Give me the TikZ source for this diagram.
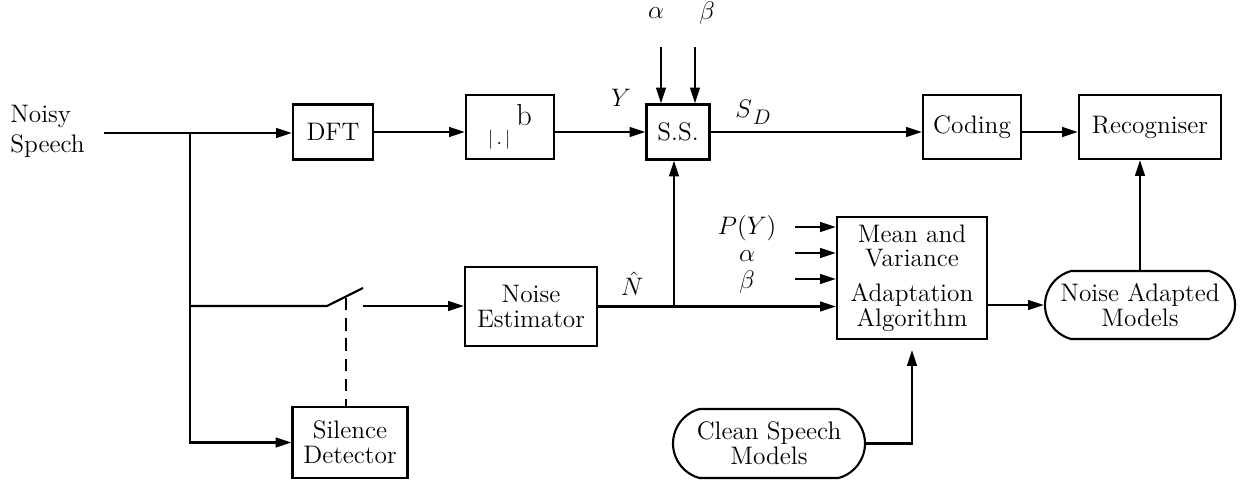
\documentclass[tikz,border=0pt]{standalone}
\usepackage{amsmath}
\usepackage{tikz}
\usetikzlibrary{positioning,arrows.meta,shapes.misc}
\tikzset{
  blk/.style={draw,line width=1.2pt,inner sep=0pt,align=center},
  rnd/.style={draw,rounded rectangle,rounded rectangle arc length=150,line width=1.2pt,inner sep=0pt,align=center},
  sig/.style={line width=1.2pt},
  arr/.style={sig,-{Triangle[length=9pt,width=5.5pt]}},
  ctl/.style={line width=1.2pt,dash pattern=on 7pt off 4.5pt},
  lbl/.style={inner sep=0pt},
}

\begin{document}
\begin{tikzpicture}[x=0.2mm,y=-0.2mm,font=\fontsize{14.4}{14}\selectfont]
  \useasboundingbox (0,0) rectangle (1256,483);
  % top row
  \node[lbl,anchor=west,align=left] (speech) at (10,131) {Noisy\\[3pt]Speech};
  \node[blk,minimum width=16mm,minimum height=11mm] (dft) at (333,132) {DFT};
  \node[blk,minimum width=17.6mm,minimum height=12.8mm] (pow) at (510,127)
    {{\fontsize{11}{12}\selectfont$|\,.\,|$}\hspace{1.2mm}\raisebox{11pt}{\fontsize{17.28}{18}\selectfont b}};
  \node[blk,minimum width=12.6mm,minimum height=11mm] (ss) at (678,132) {S.S.};
  \node[blk,minimum width=19.6mm,minimum height=12.8mm] (coding) at (972,127) {Coding};
  \node[blk,minimum width=28.4mm,minimum height=12.8mm] (recog) at (1150,127) {Recogniser};
  % lower rows
  \node[blk,minimum width=26.4mm,minimum height=15.8mm] (noiseest) at (531,306.5) {Noise\\Estimator};
  \node[blk,minimum width=23mm,minimum height=14.2mm] (silence) at (350,442.5) {Silence\\Detector};
  \node[blk,minimum width=30mm,minimum height=24.4mm] (mva) at (912,278)
    {Mean and\\Variance\\[6pt]Adaptation\\Algorithm};
  \node[rnd,minimum width=38mm,minimum height=13.6mm] (nam) at (1140,305) {Noise Adapted\\Models};
  \node[rnd,minimum width=38.4mm,minimum height=13.8mm] (csm) at (769,443.5) {Clean Speech\\Models};
  % signal labels
  \node[lbl] (ylbl) at (621,98) {$Y$};
  \node[lbl] (sdlbl) at (753,112) {$S$\kern0.5pt\raisebox{-4pt}{\fontsize{12}{12}\selectfont$D$}};
  \node[lbl] (nhat) at (632,284) {$\hat{N}$};
  \node[lbl] (atop) at (656,13) {$\alpha$};
  \node[lbl] (btop) at (707,13) {$\beta$};
  \node[lbl] (pylbl) at (747,228) {$P(Y)$};
  \node[lbl] (albl) at (747,256) {$\alpha$};
  \node[lbl] (blbl) at (747,282) {$\beta$};
  % free ends
  \coordinate (src) at (104,133);
  \coordinate (split) at (190,133);
  \coordinate (sw1) at (327,306);
  \coordinate (sw2) at (363,288);
  \coordinate (sw3) at (363,306);
  \coordinate (swmid) at (346,298);
  \coordinate (tap) at (674,306);
  \coordinate (ain) at (661,47);
  \coordinate (bin) at (695,47);
  % main path
  \draw[arr] (src) -- (src -| dft.west);
  \draw[arr] (dft.east) -- (dft.east -| pow.west);
  \draw[arr] (pow.east |- dft.east) -- (ss.west);
  \draw[arr] (ss.east) -- (ss.east -| coding.west);
  \draw[arr] (coding.east |- ss.east) -- (ss.east -| recog.west);
  \draw[arr] (ain) -- (ain |- ss.north);
  \draw[arr] (bin) -- (bin |- ss.north);
  % noise branch and switch
  \draw[arr] (split) |- (silence.west);
  \draw[sig] (split |- sw1) -- (sw1) -- (sw2);
  \draw[arr] (sw3) -- (sw3 -| noiseest.west);
  \draw[ctl] (swmid) -- (swmid |- silence.north);
  \draw[arr] (noiseest.east) -- (noiseest.east -| mva.west);
  \draw[arr] (tap) -- (tap |- ss.south);
  % adaptation inputs
  \foreach \yy/\nm in {227/inpy,253/ina,279/inb} {
    \coordinate (\nm) at (795,\yy);
    \draw[arr] (\nm) -- (\nm -| mva.west);
  }
  \draw[arr] (mva.east |- nam.west) -- (nam.west);
  \draw[arr,shorten >=2mm] (csm.east) -| (mva.south);
  \draw[arr] (nam.north) -- (nam.north |- recog.south);
\end{tikzpicture}
\end{document}
